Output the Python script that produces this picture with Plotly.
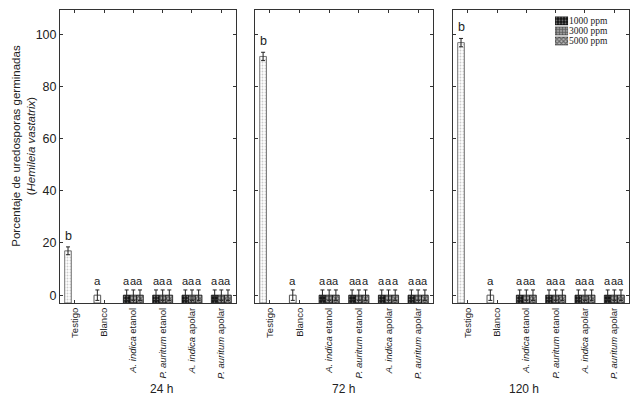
import plotly.graph_objects as go

# Data
periods = ["24 h", "72 h", "120 h"]
categories = ["Testigo", "Blanco", "A. indica etanol", "P. auritum etanol",
              "A. indica apolar", "P. auritum apolar"]
tick_labels = ["Testigo", "Blanco", "<i>A. indica</i> etanol", "<i>P. auritum</i> etanol",
               "<i>A. indica</i> apolar", "<i>P. auritum</i> apolar"]
doses = ["1000 ppm", "3000 ppm", "5000 ppm"]

testigo_mean = [17.0, 91.5, 96.8]
testigo_err = [1.5, 1.6, 1.6]
testigo_letter = ["b", "b", "b"]

blanco_mean = [0.0, 0.0, 0.0]
blanco_err = [2.0, 2.0, 2.0]
blanco_letter = ["a", "a", "a"]

# extract means per period: rows = dose, cols = extract (A.i. et, P.a. et, A.i. ap, P.a. ap)
extract_mean_24 = [[0.0, 0.0, 0.0, 0.0], [0.0, 0.0, 0.0, 0.0], [0.0, 0.0, 0.0, 0.0]]
extract_mean_72 = [[0.0, 0.0, 0.0, 0.0], [0.0, 0.0, 0.0, 0.0], [0.0, 0.0, 0.0, 0.0]]
extract_mean_120 = [[0.0, 0.0, 0.0, 0.0], [0.0, 0.0, 0.0, 0.0], [0.0, 0.0, 0.0, 0.0]]
extract_err = [[2.0, 2.0, 2.0, 2.0], [2.0, 2.0, 2.0, 2.0], [2.0, 2.0, 2.0, 2.0]]
extract_letter = ["a", "a", "a", "a"]

extract_means = [extract_mean_24, extract_mean_72, extract_mean_120]

Y_MIN = -3
Y_MAX = 109.3
BARGAP = 0.32

dose_style = [
    dict(shape=".", bgcolor="#111111", fgcolor="#dddddd", size=3, solidity=0.3),
    dict(shape="+", bgcolor="#9a9a9a", fgcolor="#111111", size=3, solidity=0.4),
    dict(shape="x", bgcolor="#bbbbbb", fgcolor="#111111", size=3, solidity=0.6),
]

domains = [[0.0, 0.3093], [0.3427, 0.6555], [0.6907, 1.0]]
ink = "#222222"

fig = go.Figure()
annotations = []

for p, period in enumerate(periods):
    xa = "x" if p == 0 else f"x{p + 1}"
    ya = "y" if p == 0 else f"y{p + 1}"

    fig.add_trace(go.Bar(
        x=[categories[0]], y=[testigo_mean[p] - Y_MIN], base=Y_MIN,
        xaxis=xa, yaxis=ya, offsetgroup="1", alignmentgroup=f"g{p}",
        marker=dict(color="#ffffff", line=dict(color="#777777", width=1),
                    pattern=dict(shape=".", bgcolor="#ffffff", fgcolor="#999999",
                                 size=3, solidity=0.3)),
        error_y=dict(type="data", array=[testigo_err[p]], color=ink, thickness=1, width=2),
        showlegend=False, hoverinfo="skip"))
    fig.add_trace(go.Bar(
        x=[categories[1]], y=[blanco_mean[p] - Y_MIN], base=Y_MIN,
        xaxis=xa, yaxis=ya, offsetgroup="1", alignmentgroup=f"g{p}",
        marker=dict(color="#ffffff", line=dict(color="#555555", width=1)),
        error_y=dict(type="data", array=[blanco_err[p]], color=ink, thickness=1, width=2),
        showlegend=False, hoverinfo="skip"))

    for d, dose in enumerate(doses):
        vals = extract_means[p][d]
        fig.add_trace(go.Bar(
            name=dose, x=categories[2:], y=[v - Y_MIN for v in vals], base=Y_MIN,
            xaxis=xa, yaxis=ya, offsetgroup=str(d + 1), alignmentgroup=f"g{p}",
            marker=dict(color="#111111", line=dict(color="#111111", width=0.8),
                        pattern=dose_style[d]),
            error_y=dict(type="data", array=extract_err[d], color=ink, thickness=1, width=2),
            showlegend=False, hoverinfo="skip"))

    # significance letters
    slot = (1 - BARGAP) / 3
    annotations.append(dict(x=0 - slot, y=testigo_mean[p] + testigo_err[p], xref=xa, yref=ya,
                            text=testigo_letter[p], showarrow=False, yanchor="bottom",
                            yshift=2, font=dict(size=12.5, color=ink)))
    annotations.append(dict(x=1 - slot, y=blanco_mean[p] + blanco_err[p], xref=xa, yref=ya,
                            text=blanco_letter[p], showarrow=False, yanchor="bottom",
                            yshift=1, font=dict(size=11.5, color=ink)))
    for j in range(4):
        for d in range(3):
            annotations.append(dict(x=2 + j + (d - 1) * slot,
                                    y=extract_means[p][d][j] + extract_err[d][j],
                                    xref=xa, yref=ya, text=extract_letter[j], showarrow=False,
                                    yanchor="bottom", yshift=1, font=dict(size=11, color=ink)))

    # period label under each panel
    annotations.append(dict(x=sum(domains[p]) / 2, y=0, xref="paper", yref="paper",
                            text=period, showarrow=False, yanchor="middle", yshift=-86,
                            font=dict(size=12, color=ink)))

    axis_common = dict(showline=True, linecolor="#333333", linewidth=1, mirror="ticks",
                       ticks="inside", ticklen=3, tickcolor="#333333", showgrid=False,
                       zeroline=False, automargin=False)
    fig.layout[("xaxis" if p == 0 else f"xaxis{p + 1}")] = dict(
        domain=domains[p], anchor=ya, type="category",
        categoryorder="array", categoryarray=categories,
        tickvals=categories, ticktext=tick_labels, tickangle=-90,
        ticklabelstandoff=0,
        tickfont=dict(size=9.5, color=ink), range=[-0.5, 5.5], **axis_common)
    fig.layout[("yaxis" if p == 0 else f"yaxis{p + 1}")] = dict(
        anchor=xa, domain=[0, 1], range=[Y_MIN, Y_MAX], tickvals=[0, 20, 40, 60, 80, 100],
        showticklabels=(p == 0), tickfont=dict(size=12.5, color=ink), **axis_common)

# compact legend (swatches on a small hidden axis pair)
fig.add_trace(go.Bar(
    x=[1, 1, 1], y=doses, orientation="h", xaxis="x4", yaxis="y4", width=0.8,
    marker=dict(color="#111111", line=dict(color="#111111", width=0.5),
                pattern=dict(shape=[s["shape"] for s in dose_style],
                             bgcolor=[s["bgcolor"] for s in dose_style],
                             fgcolor=[s["fgcolor"] for s in dose_style],
                             size=3, solidity=[s["solidity"] for s in dose_style])),
    showlegend=False, hoverinfo="skip"))
fig.layout["xaxis4"] = dict(domain=[0.870, 0.893], anchor="y4", range=[0, 1], visible=False,
                            fixedrange=True)
fig.layout["yaxis4"] = dict(domain=[0.877, 0.980], anchor="x4", side="right", type="category",
                            categoryorder="array", categoryarray=doses, autorange="reversed",
                            tickmode="array", tickvals=doses, ticktext=doses,
                            showline=False, ticks="", showgrid=False, zeroline=False,
                            automargin=False, fixedrange=True,
                            tickfont=dict(family="Liberation Serif, Times New Roman, serif",
                                          size=9.5, color=ink))

annotations.append(dict(x=0, y=0.535, xref="paper", yref="paper", xanchor="right",
                        xshift=-21, textangle=-90, showarrow=False,
                        text="Porcentaje de uredosporas germinadas<br>(<i>Hemileia vastatrix</i>)",
                        font=dict(size=11.5, color=ink)))

# the page body adds an 8px offset, so the figure is sized to fit the window
fig.update_layout(
    width=630, height=405,
    margin=dict(l=52, r=9, t=2, b=110),
    paper_bgcolor="white", plot_bgcolor="white",
    barmode="group", bargap=BARGAP, bargroupgap=0.0,
    font=dict(family="Liberation Sans, Arial, sans-serif", color=ink),
    annotations=annotations,
    showlegend=False,
)

fig.write_html("out.html")
